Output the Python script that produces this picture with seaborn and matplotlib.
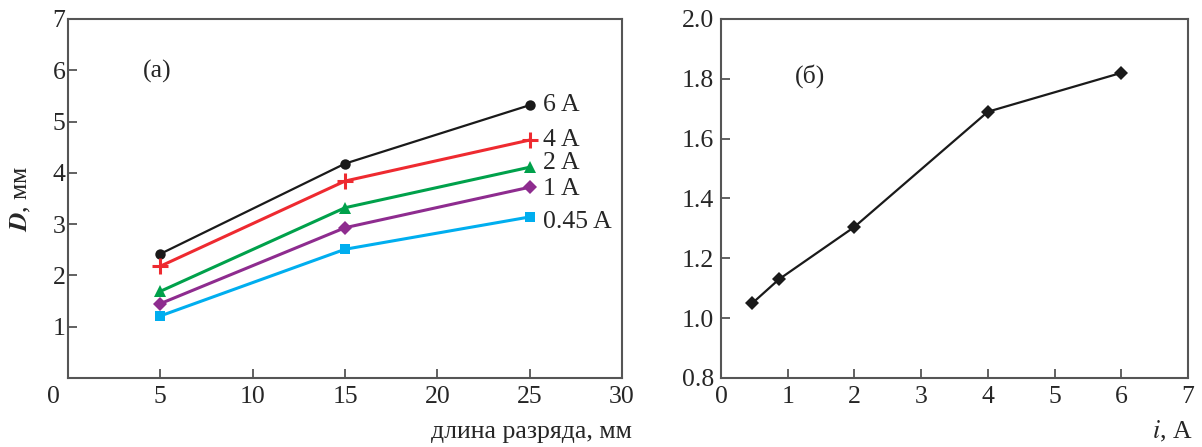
import matplotlib
matplotlib.use('Agg')
import matplotlib.pyplot as plt
import matplotlib.transforms as mtransforms
import seaborn as sns

# ── данные ─────────────────────────────────────────
length_mm = [5, 15, 25]
d_6A = [2.42, 4.18, 5.32]
d_4A = [2.18, 3.84, 4.64]
d_2A = [1.69, 3.32, 4.11]
d_1A = [1.45, 2.93, 3.72]
d_045A = [1.21, 2.51, 3.14]
series_names = ['6 A', '4 A', '2 A', '1 A', '0.45 A']
label_y = [5.32, 4.64, 4.19, 3.68, 3.04]

current_A = [0.47, 0.87, 2.0, 4.0, 6.0]
d_vs_i = [1.05, 1.13, 1.305, 1.69, 1.82]

sns.set_theme(style='white')
plt.rcParams['font.family'] = ['Liberation Serif', 'DejaVu Serif']
plt.rcParams['mathtext.fontset'] = 'stix'

FS = 18.5
colors = ['#1a1a1a', '#ee2a30', '#00a14b', '#8e2c8f', '#00aeef']
markers = ['o', '+', '^', 'D', 's']
msizes = [7.5, 11, 9, 7.5, 7.5]

fig = plt.figure(figsize=(12.02, 4.47), dpi=100)
ax1 = fig.add_axes([0.0566, 0.1544, 0.4609, 0.8031])
ax2 = fig.add_axes([0.5998, 0.1544, 0.3886, 0.8031])

# ── (а) ────────────────────────────────────────────
all_d = [d_6A, d_4A, d_2A, d_1A, d_045A]
for name, vals, c, m, ms, ly in zip(series_names, all_d, colors, markers, msizes, label_y):
    sns.lineplot(x=length_mm, y=vals, ax=ax1, color=c,
                 lw=1.6 if c == '#1a1a1a' else 2.2,
                 marker=m, markersize=ms,
                 markeredgewidth=2.2 if m == '+' else 0,
                 markeredgecolor=c)
    ax1.text(length_mm[-1] + 0.7, ly, name, fontsize=FS, va='center', ha='left')

ax1.set_xlim(0, 30)
ax1.set_ylim(0, 7)
ax1.set_xticks([0, 5, 10, 15, 20, 25, 30])
ax1.set_yticks([1, 2, 3, 4, 5, 6, 7])
ax1.text(4.82, 5.97, '(a)', fontsize=FS, ha='center', va='center')
ax1.set_ylabel(r'$\boldsymbol{D}$, мм', fontsize=FS, labelpad=14)
ax1.set_xlabel('')
fig.text(0.5258, 0.034, 'длина разряда, мм', fontsize=FS, ha='right', va='center')

# ── (б) ────────────────────────────────────────────
sns.lineplot(x=current_A, y=d_vs_i, ax=ax2, color='#1a1a1a', lw=1.6,
             marker='D', markersize=7.5, markeredgewidth=0)
ax2.set_xlim(0, 7)
ax2.set_ylim(0.8, 2.0)
ax2.set_xticks(range(0, 8))
ax2.set_yticks([0.8, 1.0, 1.2, 1.4, 1.6, 1.8, 2.0])
ax2.set_yticklabels(['0.8', '1.0', '1.2', '1.4', '1.6', '1.8', '2.0'])
ax2.text(1.33, 1.81, '(б)', fontsize=FS, ha='center', va='center')
ax2.set_xlabel('')
ax2.set_ylabel('')
fig.text(0.9917, 0.034, r'$\mathit{i}$, A', fontsize=FS, ha='right', va='center')

for ax in (ax1, ax2):
    for s in ax.spines.values():
        s.set_color('#555555')
        s.set_linewidth(1.5)
    ax.tick_params(direction='in', length=6.5, width=1.3, color='#555555',
                   labelsize=FS, top=False, right=False, bottom=True, left=True)
    ax.tick_params(axis='x', pad=6)
    ax.grid(False)
ax1.tick_params(axis='y', pad=2)
ax2.tick_params(axis='y', pad=5)

# "0" у левого графика смещён влево от угла осей
lbl0 = ax1.get_xticklabels()[0]
lbl0.set_transform(lbl0.get_transform() +
                   mtransforms.ScaledTranslation(-15 / 100, 0, fig.dpi_scale_trans))

plt.savefig('out.png', dpi=100)
plt.close()
